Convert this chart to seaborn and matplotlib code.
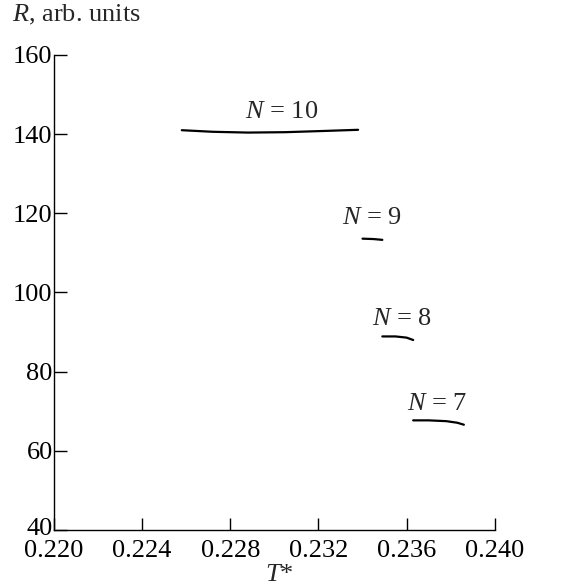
import matplotlib
matplotlib.use("Agg")
import matplotlib.pyplot as plt
import matplotlib.transforms as mtransforms
import seaborn as sns
import pandas as pd

# Curves R(T*) for each chain length N
t_n10 = [0.2258, 0.2272, 0.2288, 0.2305, 0.2322, 0.2338]
r_n10 = [141.0, 140.6, 140.4, 140.5, 140.8, 141.1]
t_n9 = [0.2340, 0.2345, 0.2349]
r_n9 = [113.6, 113.5, 113.3]
t_n8 = [0.2349, 0.2355, 0.2360, 0.2363]
r_n8 = [88.9, 88.9, 88.6, 88.0]
t_n7 = [0.2363, 0.2370, 0.2378, 0.2383, 0.2386]
r_n7 = [67.7, 67.7, 67.5, 67.1, 66.6]

curve_labels = ["$N$ = 10", "$N$ = 9", "$N$ = 8", "$N$ = 7"]
label_t = [0.23035, 0.23443, 0.23579, 0.23738]
label_r = [145.6, 118.7, 93.4, 71.9]

x_ticks = [0.220, 0.224, 0.228, 0.232, 0.236, 0.240]
y_ticks = [40, 60, 80, 100, 120, 140, 160]

sns.set_theme(style="white")
plt.rcParams["font.family"] = ["Liberation Serif", "DejaVu Serif"]
plt.rcParams["mathtext.fontset"] = "custom"
plt.rcParams["mathtext.rm"] = "Liberation Serif"
plt.rcParams["mathtext.it"] = "Liberation Serif:italic"

frames = []
for name, t, r in zip(curve_labels, [t_n10, t_n9, t_n8, t_n7],
                      [r_n10, r_n9, r_n8, r_n7]):
    frames.append(pd.DataFrame({"T": t, "R": r, "N": name}))
df = pd.concat(frames, ignore_index=True)

fig = plt.figure(figsize=(5.65, 5.85), dpi=100)
ax = fig.add_axes([0.0956, 0.094, 0.78, 0.812])

sns.lineplot(data=df, x="T", y="R", hue="N", units="N", estimator=None,
             sort=False, palette=["black"] * 4, linewidth=1.6,
             legend=False, ax=ax)

for lab, t, r in zip(curve_labels, label_t, label_r):
    ax.text(t, r, lab, ha="center", va="center", fontsize=19)

ax.set_xlim(0.220, 0.240)
ax.set_ylim(40, 160)
ax.set_xticks(x_ticks)
ax.set_xticklabels([f"{v:.3f}" for v in x_ticks])
ax.set_yticks(y_ticks)
ax.tick_params(direction="in", length=9, width=1.0, labelsize=19,
               colors="black", bottom=True, left=True)
ax.tick_params(axis="x", pad=7)
ax.tick_params(axis="y", pad=1)
for side in ["top", "right"]:
    ax.spines[side].set_visible(False)
for side in ["left", "bottom"]:
    ax.spines[side].set_color("black")
    ax.spines[side].set_linewidth(1.0)
ax.set_xlabel("")
ax.set_ylabel("")

# nudge the lowest y label up a few pixels so it clears the x tick labels
fig.canvas.draw()
low = ax.get_yticklabels()[0]
low.set_transform(low.get_transform() +
                  mtransforms.ScaledTranslation(0, 4 / 100, fig.dpi_scale_trans))

fig.text(0.022, 0.975, "$R$, arb. units", ha="left", va="center", fontsize=19)
fig.text(0.495, 0.017, "$T$*", ha="center", va="center", fontsize=19)

fig.savefig("out.png", dpi=100, facecolor="white")
